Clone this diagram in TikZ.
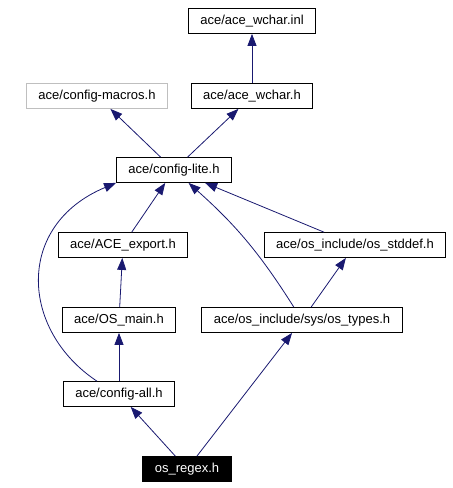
\documentclass[tikz,border=0pt]{standalone}
\usepackage{fontspec}
\setmainfont{Liberation Sans}
\usetikzlibrary{arrows.meta, positioning}

\definecolor{edgeblue}{HTML}{191970}
\definecolor{lightgrey}{HTML}{BFBFBF}

\begin{document}
\begin{tikzpicture}[
    x=1pt, y=-1pt,
    file/.style={rectangle, draw, line width=0.8pt, inner xsep=12pt, minimum height=25pt,
        font=\fontsize{13}{15}\selectfont, text=black},
    missing/.style={file, draw=lightgrey},
    current/.style={file, fill=black, text=white},
    incl/.style={draw=edgeblue, line width=0.8pt, -{Triangle[length=12pt, width=9pt]}, edgeblue}
]
    \useasboundingbox (0,0) rectangle (453,488);

    % Nodes ------------------------------------------------------

    \node[file] (inl) at (252,21) {ace/ace\_wchar.inl};
    \node[missing] (macros) at (97,96) {ace/config-macros.h};
    \node[file] (wchar) at (252,96) {ace/ace\_wchar.h};
    \node[file] (lite) at (174,170) {ace/config-lite.h};
    \node[file] (export) at (123,245) {ace/ACE\_export.h};
    \node[file] (stddef) at (355,245) {ace/os\_include/os\_stddef.h};
    \node[file] (osmain) at (119,320) {ace/OS\_main.h};
    \node[file] (types) at (302,320) {ace/os\_include/sys/os\_types.h};
    \node[file] (all) at (119,394) {ace/config-all.h};
    \node[current] (regex) at (187,469) {os\_regex.h};

    % Arrows ---------------------------------------------------

    % From the file itself
    \draw [incl] (regex) -- (all);
    \draw [incl] (regex) -- (types);

    % Left column
    \draw [incl] (all) -- (osmain);
    \draw [incl] (osmain) -- (export);
    \draw [incl] (export) -- (lite);
    \draw [incl] (all.north west) ++(34,0) .. controls (20,330) and (15,225) .. (lite.south west);

    % Right column
    \draw [incl] (types) -- (stddef);
    \draw [incl] (stddef) -- (lite);
    \draw [incl] (types) to[bend right=8] (lite);

    % Top
    \draw [incl] (lite) -- (macros);
    \draw [incl] (lite) -- (wchar);
    \draw [incl] (wchar) -- (inl);

\end{tikzpicture}
\end{document}
